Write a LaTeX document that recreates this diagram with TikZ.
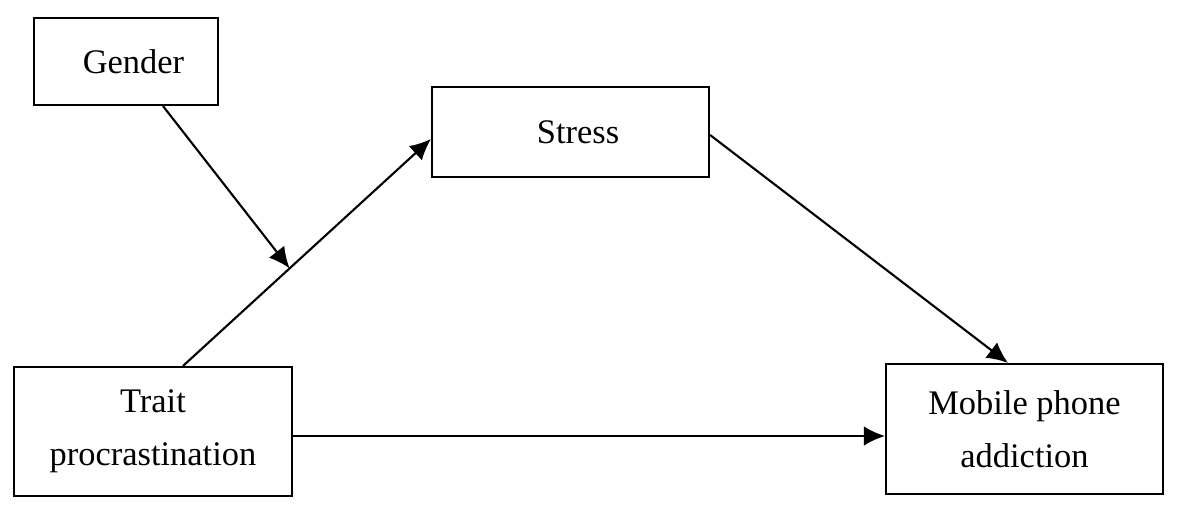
\documentclass[tikz,border=0pt]{standalone}
\usepackage{fontspec}
\setmainfont{Liberation Serif}
\usetikzlibrary{arrows.meta, positioning, calc}

\begin{document}
\begin{tikzpicture}[
box/.style={draw, line width=1.2pt, align=center, font=\fontsize{19.6}{30}\selectfont},
arr/.style={line width=1.2pt, -{Latex[length=4.2mm, width=3.9mm]}}
]
\useasboundingbox (0,0) rectangle (23.62,-10.28);

% Variables
\node[box, minimum width=3.68cm, minimum height=1.74cm] (gender) at (2.52,-1.23) {\hspace{0.3cm}Gender};
\node[box, minimum width=5.54cm, minimum height=1.8cm] (stress) at (11.41,-2.64) {\hspace{0.3cm}Stress};
\node[box, minimum width=5.56cm, minimum height=2.58cm] (trait) at (3.06,-8.63) {Trait\\procrastination};
\node[box, minimum width=5.54cm, minimum height=2.6cm] (mobile) at (20.49,-8.58) {Mobile phone\\addiction};

% Chemins
\draw[arr] ($(trait.north)+(0.6,0)$) -- coordinate[pos=0.43] (mod) ($(stress.west)+(0,-0.14)$);
\draw[arr] ($(gender.south)+(0.74,0)$) -- (mod);
\draw[arr] ($(stress.east)+(0,-0.06)$) -- ($(mobile.north)+(-0.33,0)$);
\draw[arr] ($(trait.east)+(0,-0.09)$) -- ($(mobile.west)+(0,-0.14)$);

\end{tikzpicture}
\end{document}
